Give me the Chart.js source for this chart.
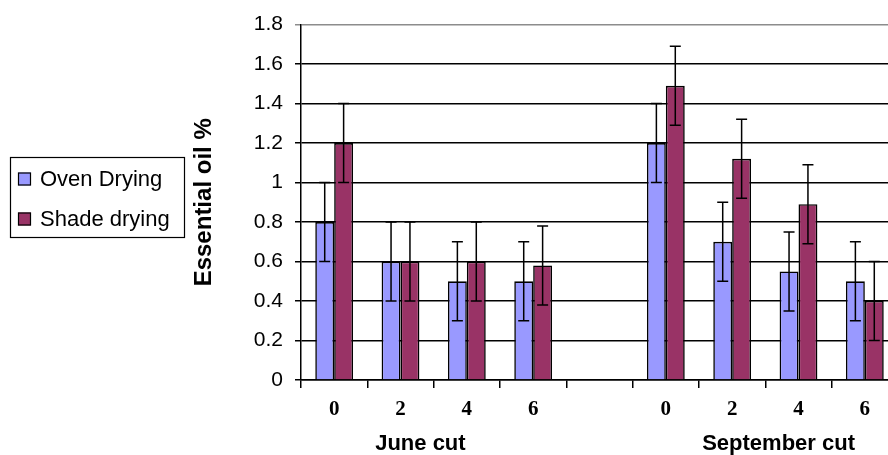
<!DOCTYPE html>
<html>
<head>
<meta charset="utf-8">
<script src="https://cdn.jsdelivr.net/npm/chart.js@4.4.1/dist/chart.umd.min.js"></script>
<style>
  html, body { margin: 0; padding: 0; background: #fff; overflow: hidden; }
  canvas { display: block; }
</style>
</head>
<body>
<canvas id="myChart" width="900" height="455"></canvas>
<script>
// Categories for each cut, blank slot between the two cuts
const labels = ['0', '2', '4', '6', '', '0', '2', '4', '6'];
const groupLabels = ['June cut', 'September cut'];

// Essential oil %
const ovenValues  = [0.8, 0.6, 0.5, 0.5, null, 1.2, 0.7, 0.55, 0.5];
const shadeValues = [1.2, 0.6, 0.6, 0.58, null, 1.49, 1.12, 0.89, 0.4];

// Error bar half-lengths
const ovenErr  = [0.2, 0.2, 0.2, 0.2, null, 0.2, 0.2, 0.2, 0.2];
const shadeErr = [0.2, 0.2, 0.2, 0.2, null, 0.2, 0.2, 0.2, 0.2];

const yTicks = [0, 0.2, 0.4, 0.6, 0.8, 1, 1.2, 1.4, 1.6, 1.8];

// draws the error bars using the bar elements + y scale
const errorBars = {
  id: 'errorBars',
  afterDatasetsDraw(chart) {
    const ctx = chart.ctx;
    const y = chart.scales.y;
    ctx.save();
    ctx.strokeStyle = '#000';
    ctx.lineWidth = 1.5;
    chart.data.datasets.forEach((ds, i) => {
      const meta = chart.getDatasetMeta(i);
      meta.data.forEach((bar, j) => {
        const v = ds.data[j];
        const e = ds.errors[j];
        if (v == null || e == null) return;
        const top = y.getPixelForValue(v + e);
        const bot = y.getPixelForValue(v - e);
        ctx.beginPath();
        ctx.moveTo(bar.x, top); ctx.lineTo(bar.x, bot);
        ctx.moveTo(bar.x - 5.5, top); ctx.lineTo(bar.x + 5.5, top);
        ctx.moveTo(bar.x - 5.5, bot); ctx.lineTo(bar.x + 5.5, bot);
        ctx.stroke();
      });
    });
    ctx.restore();
  }
};

// group labels under the x ticks (June cut / September cut)
const groupText = {
  id: 'groupText',
  afterDraw(chart) {
    const ctx = chart.ctx;
    const x = chart.scales.x;
    const at = [1.3, 6.7];
    ctx.save();
    ctx.fillStyle = '#000';
    ctx.font = 'bold 22px "Liberation Sans", Arial, sans-serif';
    ctx.textAlign = 'center';
    ctx.textBaseline = 'middle';
    groupLabels.forEach((g, i) => {
      ctx.fillText(g, x.getPixelForValue(at[i]), 444);
    });
    ctx.restore();
  }
};

// boxed legend on the left
const boxLegend = {
  id: 'boxLegend',
  afterDraw(chart) {
    const ctx = chart.ctx;
    ctx.save();
    ctx.strokeStyle = '#000';
    ctx.lineWidth = 1.2;
    ctx.strokeRect(10.5, 157.5, 174, 80);
    ctx.font = '22px "Liberation Sans", Arial, sans-serif';
    ctx.textBaseline = 'middle';
    chart.data.datasets.forEach((ds, i) => {
      const cy = 179 + i * 40;
      ctx.fillStyle = ds.backgroundColor;
      ctx.fillRect(18, cy - 6.5, 13, 13);
      ctx.strokeStyle = '#000';
      ctx.strokeRect(18.5, cy - 6, 12, 12);
      ctx.fillStyle = '#000';
      ctx.fillText(ds.label, 40, cy + 1);
    });
    ctx.restore();
  }
};

const data = {
  labels: labels,
  datasets: [
    {
      label: 'Oven Drying',
      data: ovenValues,
      errors: ovenErr,
      backgroundColor: '#9999FF',
      borderColor: '#000',
      borderWidth: 1.6,
    },
    {
      label: 'Shade drying',
      data: shadeValues,
      errors: shadeErr,
      backgroundColor: '#993366',
      borderColor: '#000',
      borderWidth: 1.6,
    }
  ]
};

const config = {
  type: 'bar',
  data: data,
  options: {
    responsive: false,
    animation: false,
    devicePixelRatio: 1,
    categoryPercentage: 0.57,
    barPercentage: 1,
    layout: { padding: { left: 190, top: 22, right: 2, bottom: 0 } },
    plugins: {
      legend: { display: false },
      tooltip: { enabled: false }
    },
    scales: {
      x: {
        afterFit: s => { s.height = 75; },
        grid: {
          offset: true,
          drawOnChartArea: false,
          tickLength: 8,
          color: '#000',
          lineWidth: 1.5
        },
        border: { color: '#000', width: 1.5 },
        ticks: {
          color: '#000',
          padding: 9,
          font: { family: '"Liberation Serif", "Times New Roman", serif', size: 21, weight: 'bold' }
        }
      },
      y: {
        min: 0,
        max: 1.8,
        afterFit: s => { s.width = 111; },
        afterBuildTicks: s => { s.ticks = yTicks.map(v => ({ value: v })); },
        grid: {
          color: c => (c.tick && c.tick.value === 1.8) ? '#8c8c8c' : '#000',
          lineWidth: 1.5,
          tickLength: 6
        },
        border: { color: '#000', width: 1.5 },
        ticks: {
          color: '#000',
          padding: 12,
          callback: v => String(v),
          font: { family: '"Liberation Sans", Arial, sans-serif', size: 21 }
        },
        title: {
          display: true,
          text: 'Essential oil %',
          color: '#000',
          padding: 0,
          font: { family: '"Liberation Sans", Arial, sans-serif', size: 24, weight: 'bold' }
        }
      }
    }
  },
  plugins: [errorBars, groupText, boxLegend]
};

const ctx = document.getElementById('myChart').getContext('2d');
const myChart = new Chart(ctx, config);
</script>
</body>
</html>
